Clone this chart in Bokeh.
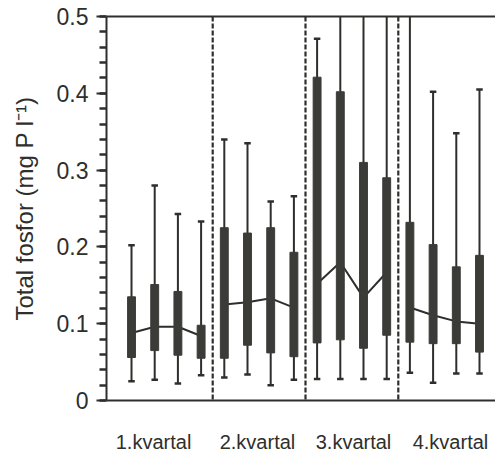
from bokeh.plotting import figure
from bokeh.models import ColumnDataSource, FixedTicker, SingleIntervalTicker, LinearAxis, Span, Range1d
from bokeh.embed import file_html
from bokeh.resources import INLINE

# ---- data (mg P / l), four stations per quarter ----
quarters = ["1.kvartal", "2.kvartal", "3.kvartal", "4.kvartal"]
low = [0.025, 0.027, 0.022, 0.033,
       0.030, 0.034, 0.020, 0.027,
       0.028, 0.028, 0.028, 0.028,
       0.036, 0.023, 0.035, 0.035]
q1 = [0.056, 0.065, 0.059, 0.055,
      0.055, 0.072, 0.062, 0.057,
      0.075, 0.079, 0.068, 0.085,
      0.076, 0.074, 0.074, 0.063]
median = [0.088, 0.096, 0.096, 0.084,
          0.125, 0.128, 0.133, 0.121,
          0.152, 0.180, 0.134, 0.167,
          0.121, 0.111, 0.103, 0.100]
q3 = [0.135, 0.151, 0.142, 0.098,
      0.225, 0.218, 0.225, 0.193,
      0.421, 0.402, 0.310, 0.290,
      0.232, 0.203, 0.174, 0.189]
high = [0.202, 0.280, 0.243, 0.233,
        0.340, 0.335, 0.259, 0.266,
        0.471, 0.600, 0.600, 0.600,
        0.600, 0.402, 0.348, 0.405]

n_per = 4
pos = [i + 1 for i in range(len(median))]
group = [i // n_per for i in range(len(median))]

INK = "#2e2e2c"
FONT = "Liberation Sans"

src = ColumnDataSource(dict(pos=pos, low=low, q1=q1, med=median, q3=q3, high=high,
                            cl=[p - 0.14 for p in pos], cr=[p + 0.14 for p in pos]))

p = figure(width=495, height=455, output_backend="svg", toolbar_location=None,
           x_range=Range1d(-0.078, 16.69), y_range=Range1d(0, 0.5),
           x_axis_location=None, y_axis_location=None,
           min_border_left=106, min_border_right=0, min_border_top=16, min_border_bottom=55)
p.outline_line_color = None
p.grid.visible = False
p.background_fill_color = "white"
p.border_fill_color = "white"

# left axis
yax = LinearAxis(ticker=SingleIntervalTicker(interval=0.1, num_minor_ticks=5))
yax.major_label_overrides = {0: "0"}
yax.axis_label = "Total fosfor (mg P l⁻¹)"
yax.axis_label_text_font = FONT
yax.axis_label_text_font_size = "24px"
yax.axis_label_text_font_style = "normal"
yax.axis_label_text_color = INK
yax.axis_label_standoff = 16
yax.major_label_text_font = FONT
yax.major_label_text_font_size = "23px"
yax.major_label_text_color = INK
yax.major_label_standoff = 8
yax.axis_line_width = 2
yax.axis_line_color = INK
yax.major_tick_out = 10
yax.major_tick_in = 0
yax.minor_tick_out = 7
yax.minor_tick_in = 0
yax.major_tick_line_width = 2
yax.minor_tick_line_width = 2.5
yax.major_tick_line_color = INK
yax.minor_tick_line_color = INK
p.add_layout(yax, "left")

# bottom axis with quarter labels
label_pos = [1.95, 6.43, 10.57, 14.75]
xax = LinearAxis(ticker=FixedTicker(ticks=label_pos, minor_ticks=[]))
xax.major_label_overrides = {lp: q for lp, q in zip(label_pos, quarters)}
xax.major_label_text_font = FONT
xax.major_label_text_font_size = "20px"
xax.major_label_text_color = INK
xax.major_label_standoff = 30
xax.major_tick_out = 0
xax.major_tick_in = 0
xax.minor_tick_out = 0
xax.axis_line_width = 2
xax.axis_line_color = INK
p.add_layout(xax, "below")

# top frame line
tax = LinearAxis(ticker=FixedTicker(ticks=[], minor_ticks=[]))
tax.major_label_text_font_size = "0px"
tax.major_tick_out = 0
tax.major_tick_in = 0
tax.minor_tick_out = 0
tax.major_label_standoff = 0
tax.axis_line_width = 2
tax.axis_line_color = INK
p.add_layout(tax, "above")

# dashed separators between quarters
for g in range(1, len(quarters)):
    p.add_layout(Span(location=g * n_per + 0.5, dimension="height",
                      line_color=INK, line_width=2.2, line_dash="5 2"))

# whiskers and caps
p.segment(x0="pos", y0="low", x1="pos", y1="high", source=src, line_color=INK, line_width=2)
p.segment(x0="cl", y0="low", x1="cr", y1="low", source=src, line_color=INK, line_width=2.5)
p.segment(x0="cl", y0="high", x1="cr", y1="high", source=src, line_color=INK, line_width=2.5)

# median lines within each quarter
xs = [[pos[i] for i in range(len(pos)) if group[i] == g] for g in range(len(quarters))]
ys = [[median[i] for i in range(len(pos)) if group[i] == g] for g in range(len(quarters))]
p.multi_line(xs=xs, ys=ys, line_color=INK, line_width=2)

# boxes
p.vbar(x="pos", bottom="q1", top="q3", width=0.34, source=src,
       fill_color="#3b3b38", line_color="#3b3b38", line_width=1)

open("out.html", "w").write(file_html(p, INLINE))
